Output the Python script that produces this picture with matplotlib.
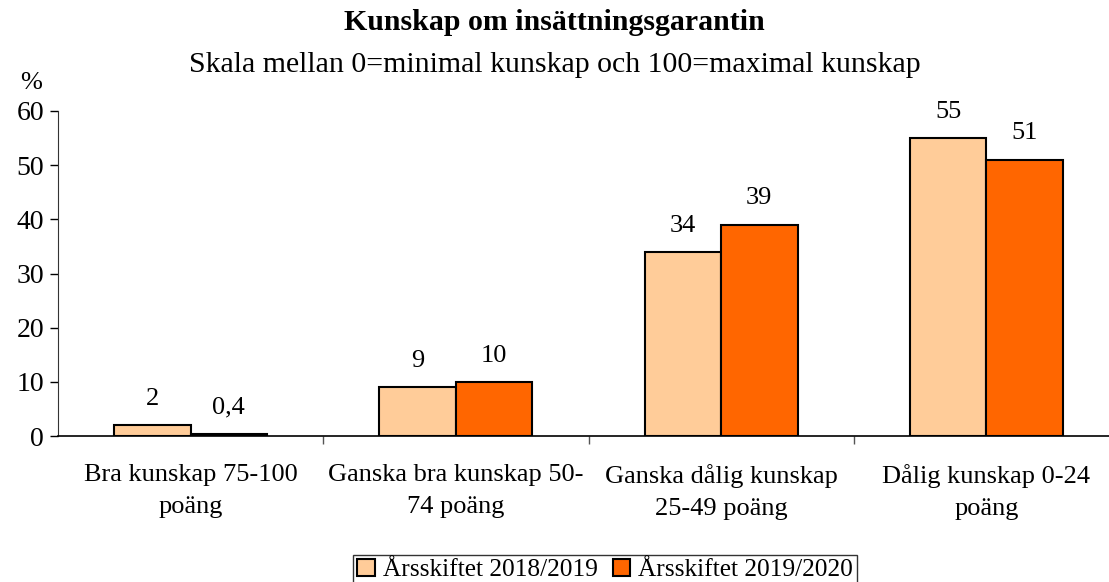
import matplotlib
matplotlib.use("Agg")
import matplotlib.pyplot as plt
import numpy as np

plt.rcParams['font.family'] = ['Liberation Serif', 'DejaVu Serif']

categories = ["Bra kunskap 75-100\npoäng", "Ganska bra kunskap 50-\n74 poäng",
              "Ganska dålig kunskap\n25-49 poäng", "Dålig kunskap 0-24\npoäng"]
series_names = ["Årsskiftet 2018/2019", "Årsskiftet 2019/2020"]
values_2019 = [2, 9, 34, 55]
values_2020 = [0.4, 10, 39, 51]
labels_2019 = ["2", "9", "34", "55"]
labels_2020 = ["0,4", "10", "39", "51"]
colors = ["#FFCC99", "#FF6600"]

W, H = 1109, 582
fig = plt.figure(figsize=(W/100, H/100), dpi=100)
left, right = 58, 1119
top, bottom = 111, 436
ax = fig.add_axes([left/W, 1-bottom/H, (right-left)/W, (bottom-top)/H])

x = np.arange(len(categories))
bw = 0.288
b1 = ax.bar(x - bw/2, values_2019, bw, color=colors[0], edgecolor='black', linewidth=1.5, label=series_names[0])
b2 = ax.bar(x + bw/2, values_2020, bw, color=colors[1], edgecolor='black', linewidth=1.5, label=series_names[1])
for bars, labs in ((b1, labels_2019), (b2, labels_2020)):
    for r, t in zip(bars, labs):
        ax.annotate(t, (r.get_x() + r.get_width()/2, r.get_height()), xytext=(0, 11),
                    textcoords='offset points', ha='center', va='bottom', fontsize=19)

ax.set_xlim(-0.5, 3.5)
ax.set_ylim(0, 60)
ax.set_yticks(range(0, 61, 10))
ax.tick_params(axis='y', labelsize=20, length=6, width=1, direction='out', pad=4)
ax.set_xticks(np.arange(0.5, 3.5, 1.0), minor=False)
ax.set_xticklabels([])
ax.tick_params(axis='x', length=6, width=1, direction='out', colors='#555555')
for s in ('top', 'right'):
    ax.spines[s].set_visible(False)
ax.spines['left'].set_color('#333333')
ax.spines['bottom'].set_linewidth(1.2)

for i, c in enumerate(categories):
    ax.text(i, -0.085, c, transform=ax.get_xaxis_transform(), ha='center', va='top',
            fontsize=19, linespacing=1.6)

fig.text(0.5, 1-22/H, "Kunskap om insättningsgarantin", ha='center', va='center',
         fontsize=21.5, fontweight='bold')
fig.text(0.5, 1-65/H, "Skala mellan 0=minimal kunskap och 100=maximal kunskap", ha='center',
         va='center', fontsize=21.5)
fig.text(31/W, 1-83/H, "%", ha='center', va='center', fontsize=19)

leg = fig.legend(handles=[b1, b2], labels=series_names, loc='center', bbox_to_anchor=(605/W, 1-570/H),
                 ncol=2, frameon=True, fancybox=False, edgecolor='black', fontsize=18.3,
                 handlelength=0.7, handleheight=0.7, handletextpad=0.3, columnspacing=0.6,
                 borderpad=0.15, borderaxespad=0)
leg.get_frame().set_linewidth(1.0)

fig.savefig("out.png", dpi=100)
